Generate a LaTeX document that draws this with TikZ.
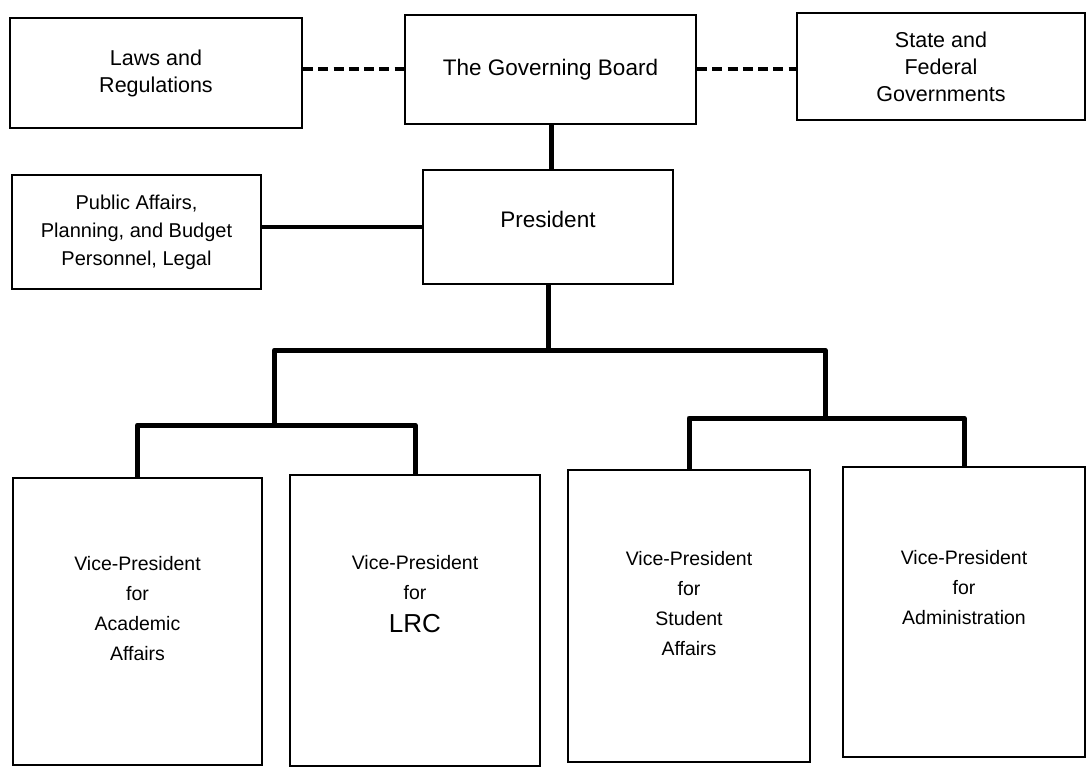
\documentclass[tikz,border=0pt]{standalone}
\usepackage{fontspec}
\setmainfont{Liberation Sans}
\begin{document}
\begin{tikzpicture}[x=1pt,y=-1pt,
  box/.style={draw=black, line width=1.8pt, rectangle, inner sep=0pt, fill=white},
  toptext/.style={align=center, font=\fontsize{21.5}{27}\selectfont},
  vptext/.style={align=center, font=\fontsize{19.5}{30}\selectfont},
  conn/.style={line width=5pt, line join=round},
  sideconn/.style={line width=4pt},
  dashline/.style={line width=4pt, dash pattern=on 10pt off 5.3pt}]
\useasboundingbox (0,0) rectangle (1087,767);

% top row
\node[box, minimum width=292pt, minimum height=110pt, toptext] (laws) at (156,73) {Laws and\\Regulations};
\node[box, minimum width=291pt, minimum height=109pt, font=\fontsize{22.5}{27}\selectfont] (gb) at (550.5,69.5) {The Governing Board};
\node[box, minimum width=288pt, minimum height=107pt, toptext] (state) at (941,66.5) {State and\\Federal\\Governments};

% president and staff office
\node[box, minimum width=249pt, minimum height=114pt, align=center, font=\fontsize{20}{28}\selectfont] (pa) at (136.5,232) {Public Affairs,\\Planning, and Budget\\Personnel, Legal};
\node[box, minimum width=250pt, minimum height=114pt] (pres) at (548,227) {};
\node[font=\fontsize{22.5}{27}\selectfont] (prestext) at (548,219) {President};

% vice-presidents
\node[box, minimum width=249pt, minimum height=287pt] (vp1) at (137.5,621.5) {};
\node[box, minimum width=250pt, minimum height=291pt] (vp2) at (415,620.5) {};
\node[box, minimum width=242pt, minimum height=292pt] (vp3) at (689,616) {};
\node[box, minimum width=242pt, minimum height=290pt] (vp4) at (964,612) {};

\node[vptext] (vp1text) at (137.5,609) {Vice-President\\for\\Academic\\Affairs};
\node[vptext] (vp2text) at (415,594) {Vice-President\\for\\[3pt]{\fontsize{26}{30}\selectfont LRC}};
\node[vptext] (vp3text) at (689,604) {Vice-President\\for\\Student\\Affairs};
\node[vptext] (vp4text) at (964,588) {Vice-President\\for\\Administration};

% bus levels of the tree
\coordinate (busA) at (0,350);
\coordinate (busL) at (0,425);
\coordinate (busR) at (0,418);
\coordinate (jL) at (274.5,350);
\coordinate (jR) at (825,350);

% connectors
\draw[dashline] (gb.west -| laws.east) -- (gb.west);
\draw[dashline] (gb.east) -- (gb.east -| state.west);
\draw[conn] (pres.north) ++(3,0) coordinate (pn) -- (pn |- gb.south);
\draw[sideconn] (pres.west) -- (pres.west -| pa.east);
\draw[conn] (pres.south) -- (pres.south |- busA);
\draw[conn] (jL |- busL) -- (jL) -- (jR) -- (jR |- busR);
\draw[conn] (vp1.north) -- (vp1.north |- busL) -- (vp2.north |- busL) -- (vp2.north);
\draw[conn] (vp3.north) -- (vp3.north |- busR) -- (vp4.north |- busR) -- (vp4.north);
\end{tikzpicture}
\end{document}
